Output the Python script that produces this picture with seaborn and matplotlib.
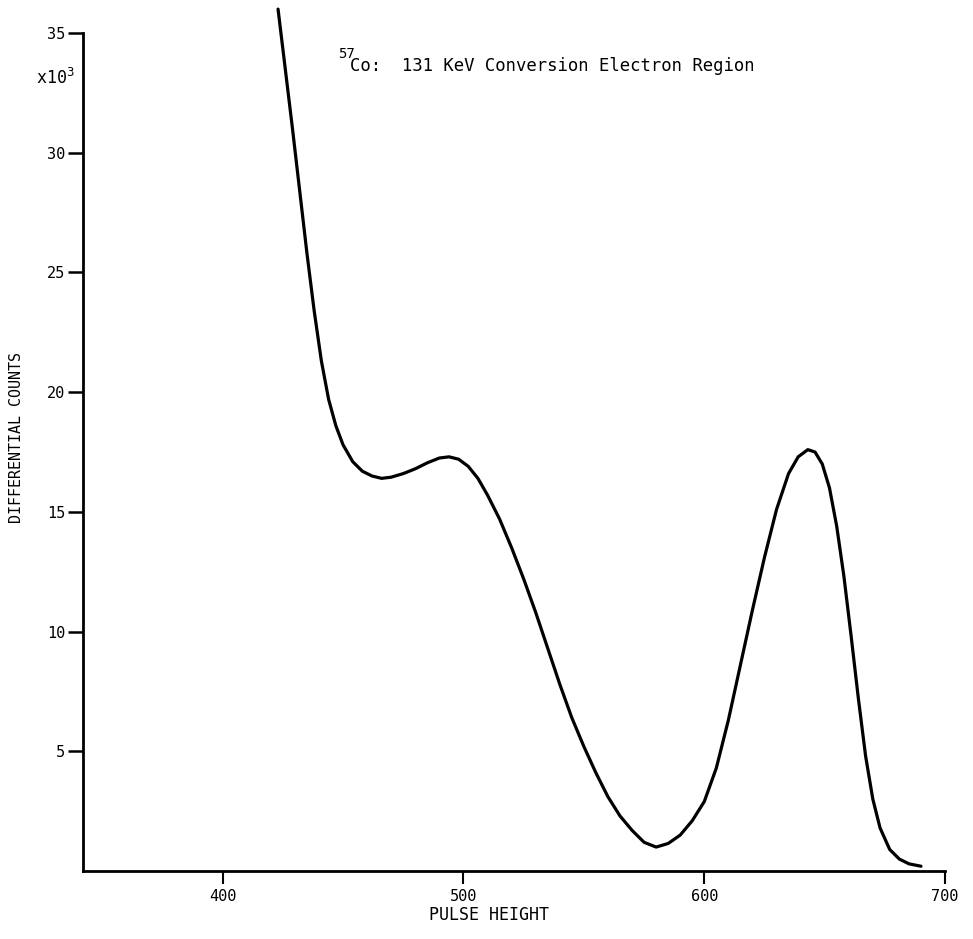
import numpy as np
import pandas as pd
import seaborn as sns
import matplotlib
matplotlib.use("Agg")
import matplotlib.pyplot as plt

# 57Co spectrum, 131 keV conversion electron region (counts in thousands)
pulse_height = [423, 426, 429, 432, 435, 438, 441, 444, 447, 450, 454, 458,
                462, 466, 470, 475, 480, 485, 490, 494, 498, 502, 506, 510,
                515, 520, 525, 530, 535, 540, 545, 550, 555, 560, 565, 570,
                575, 580, 585, 590, 595, 600, 605, 610, 615, 620, 625, 630,
                635, 639, 643, 646, 649, 652, 655, 658, 661, 664, 667, 670,
                673, 677, 681, 685, 690]
counts_k = [36.0, 33.5, 31.0, 28.4, 25.8, 23.4, 21.3, 19.7, 18.6, 17.8, 17.1, 16.7,
            16.5, 16.4, 16.45, 16.6, 16.8, 17.05, 17.25, 17.3, 17.2, 16.9, 16.4, 15.7,
            14.7, 13.5, 12.2, 10.8, 9.3, 7.8, 6.4, 5.2, 4.1, 3.1, 2.3, 1.7,
            1.2, 1.0, 1.15, 1.5, 2.1, 2.9, 4.3, 6.3, 8.6, 10.9, 13.1, 15.1,
            16.6, 17.3, 17.6, 17.5, 17.0, 16.0, 14.4, 12.3, 9.8, 7.2, 4.8, 3.0,
            1.8, 0.9, 0.5, 0.3, 0.2]

x_ticks = [400, 500, 600, 700]
y_ticks = [5, 10, 15, 20, 25, 30, 35]

df = pd.DataFrame({"pulse": pulse_height, "counts": counts_k})

sns.set_theme(style="white")
plt.rcParams["font.family"] = ["DejaVu Sans Mono", "DejaVu Sans"]

fig = plt.figure(figsize=(9.73, 9.39), dpi=100)
ax = fig.add_axes([0.0853, 0.0724, 0.886, 0.923])

sns.lineplot(data=df, x="pulse", y="counts", color="black", linewidth=2.3,
             ax=ax, clip_on=False)

ax.set_xlim(342, 700)
ax.set_ylim(0, 36.2)
ax.set_xticks(x_ticks)
ax.set_yticks(y_ticks)
ax.set_xticklabels([str(t) for t in x_ticks], fontsize=11)
ax.set_yticklabels([str(t) for t in y_ticks], fontsize=11)

for side in ["top", "right"]:
    ax.spines[side].set_visible(False)
for side in ["left", "bottom"]:
    ax.spines[side].set_color("black")
    ax.spines[side].set_linewidth(2)
ax.spines["left"].set_bounds(0, 35)

ax.tick_params(axis="both", direction="out", length=11, width=1.8,
               colors="black", pad=2, bottom=True, left=True)
ax.tick_params(axis="x", length=9, width=1.5, pad=4)

ax.set_xlabel("PULSE HEIGHT", fontsize=12, color="black")
ax.xaxis.set_label_coords(0.471, -0.04)
ax.set_ylabel("DIFFERENTIAL COUNTS", fontsize=10.8, labelpad=16, color="black")

# x10^3 multiplier below the top tick
ax.text(-0.054, 0.915, r"x10$^3$", transform=ax.transAxes, fontsize=12,
        ha="left", va="center", color="black")

# title annotation inside the plot
fig.text(0.347, 0.935, "57", fontsize=10, ha="left", va="bottom", color="black")
fig.text(0.360, 0.920, "Co:  131 KeV Conversion Electron Region", fontsize=12.4,
         ha="left", va="bottom", color="black")

fig.savefig("out.png", dpi=100, facecolor="white")
